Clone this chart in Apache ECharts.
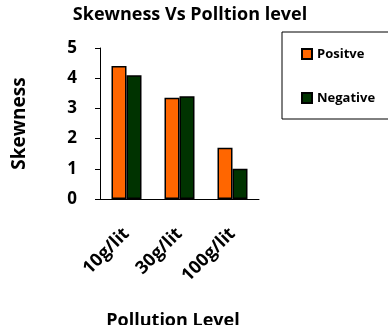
<!DOCTYPE html>
<html>
<head>
<meta charset="utf-8">
<script src="https://cdn.jsdelivr.net/npm/echarts@6/dist/echarts.min.js"></script>
<style>
html,body{margin:0;padding:0;background:#fff;}
#chart{width:388px;height:325px;}
</style>
</head>
<body>
<div id="chart"></div>
<script>
// Skewness of the distribution at each pollution level
const categories = ['10g/lit', '30g/lit', '100g/lit'];
const positive = [4.4, 3.35, 1.7];
const negative = [4.1, 3.4, 1.0];
const yTicks = [0, 1, 2, 3, 4, 5];

const FONT = '"Open Sans", Lato, sans-serif';

const chart = echarts.init(document.getElementById('chart'));
chart.setOption({
  animation: false,
  backgroundColor: '#fff',
  title: {
    text: 'Skewness Vs Polltion level',
    left: 190,
    textAlign: 'center',
    top: 6,
    padding: 0,
    textStyle: { fontFamily: FONT, fontSize: 18, fontWeight: 'bold', color: '#000' }
  },
  legend: {
    orient: 'vertical',
    left: 282,
    top: 32,
    padding: [13, 60, 12, 19],
    itemGap: 26,
    itemWidth: 10,
    itemHeight: 10,
    borderColor: '#000',
    borderWidth: 1,
    icon: 'rect',
    textStyle: { fontFamily: FONT, fontSize: 13, fontWeight: 'bold', color: '#000', lineHeight: 18 },
    data: ['Positve', 'Negative']
  },
  grid: {
    left: 100, right: 129, top: 48, bottom: 126,
    containLabel: false,
    outerBoundsMode: 'none'
  },
  xAxis: {
    type: 'category',
    data: categories,
    name: 'Pollution Level',
    nameLocation: 'middle',
    nameGap: 113,
    nameTextStyle: { fontFamily: FONT, fontSize: 18, fontWeight: 'bold', color: '#000', padding: [0, 13, 0, 0] },
    axisLine: { lineStyle: { color: '#000', width: 1 } },
    axisTick: { length: 5, lineStyle: { color: '#000' } },
    axisLabel: {
      rotate: 45,
      margin: 32,
      fontFamily: FONT, fontSize: 18, fontWeight: 'bold', color: '#000'
    }
  },
  yAxis: {
    type: 'value',
    min: yTicks[0],
    max: yTicks[yTicks.length - 1],
    interval: 1,
    name: 'Skewness',
    nameLocation: 'middle',
    nameGap: 71,
    nameRotate: 90,
    nameTextStyle: { fontFamily: FONT, fontSize: 19, fontWeight: 'bold', color: '#000' },
    splitLine: { show: false },
    axisLine: { show: true, lineStyle: { color: '#000', width: 1 } },
    axisTick: { show: true, length: 5, lineStyle: { color: '#000' } },
    axisLabel: {
      margin: 23,
      fontFamily: FONT, fontSize: 17, fontWeight: 'bold', color: '#000'
    }
  },
  series: [
    {
      name: 'Positve',
      type: 'bar',
      data: positive,
      barWidth: 15,
      barGap: '0%',
      itemStyle: { color: '#FF6600', borderColor: '#000', borderWidth: 1.5 }
    },
    {
      name: 'Negative',
      type: 'bar',
      data: negative,
      barWidth: 15,
      barGap: '0%',
      itemStyle: { color: '#003300', borderColor: '#000', borderWidth: 1.5 }
    }
  ]
});
</script>
</body>
</html>
